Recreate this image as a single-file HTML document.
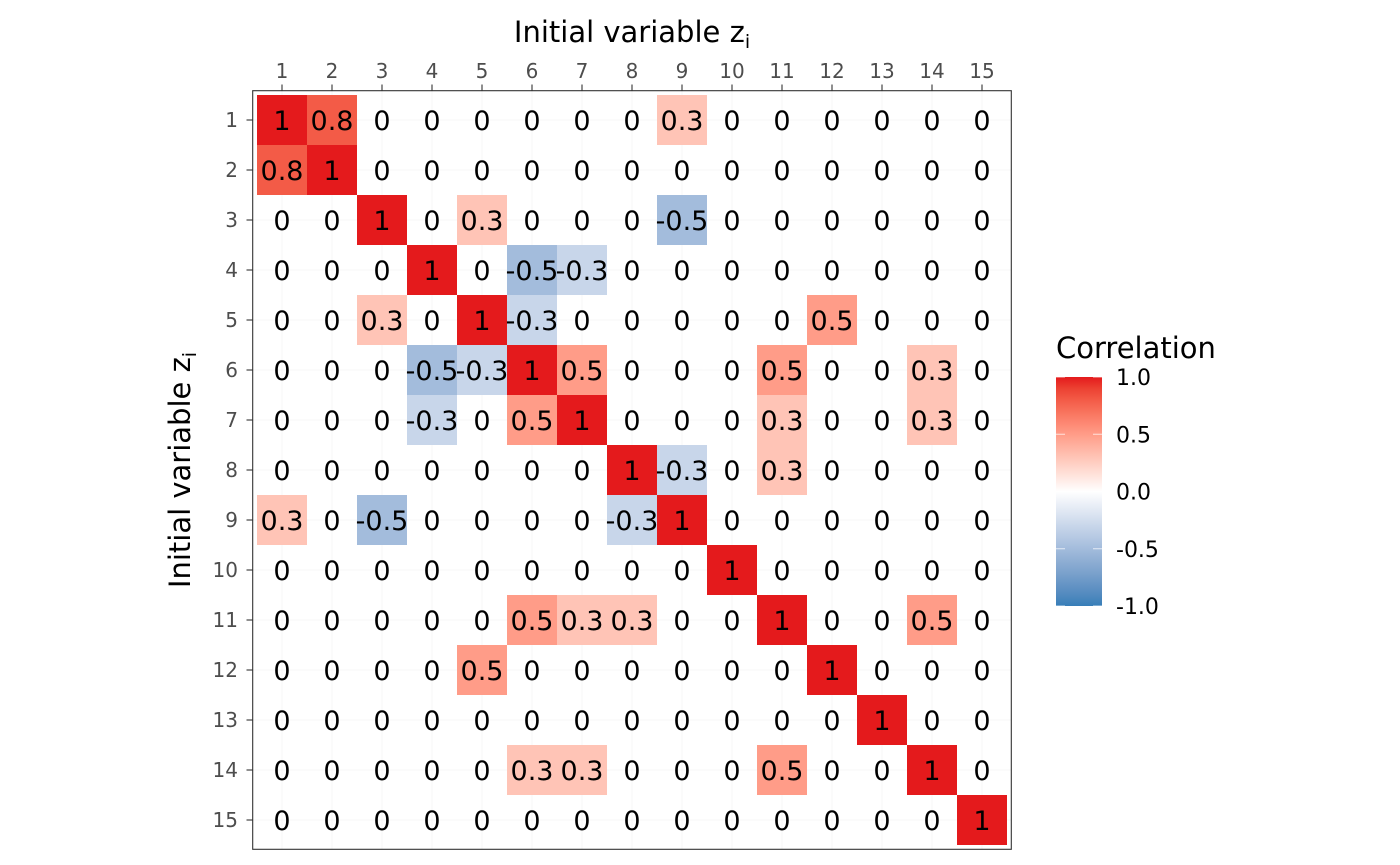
<!DOCTYPE html>
<html><head><meta charset="utf-8"><style>
html,body{margin:0;padding:0;background:#fff;}
svg{display:block;font-family:"DejaVu Sans","Liberation Sans",sans-serif;}
</style></head><body>
<svg id="chart" width="1400" height="865" viewBox="0 0 1400 865">
<defs>
<linearGradient id="cbar" x1="0" y1="1" x2="0" y2="0"></linearGradient>
</defs>
<g id="grid"></g>
<g id="tiles"></g>
<g id="labels"></g>
<rect x="252.7" y="90.7" width="758.6" height="758.6" fill="none" stroke="#333" stroke-width="1.1"/>
<g id="axes"></g>
<text x="632" y="42" font-size="29" text-anchor="middle" fill="#000">Initial variable z<tspan font-size="19" dy="6">i</tspan></text>
<text transform="translate(190,470) rotate(-90)" font-size="29" text-anchor="middle" fill="#000">Initial variable z<tspan font-size="19" dy="6">i</tspan></text>
<g id="legend">
<text x="1056" y="358" font-size="29" fill="#000">Correlation</text>
<rect x="1056" y="377" width="46" height="229" fill="url(#cbar)"/>
</g>
</svg>
<script>
const categories = ["1","2","3","4","5","6","7","8","9","10","11","12","13","14","15"];
const row1 = [1,0.8,0,0,0,0,0,0,0.3,0,0,0,0,0,0];
const row2 = [0.8,1,0,0,0,0,0,0,0,0,0,0,0,0,0];
const row3 = [0,0,1,0,0.3,0,0,0,-0.5,0,0,0,0,0,0];
const row4 = [0,0,0,1,0,-0.5,-0.3,0,0,0,0,0,0,0,0];
const row5 = [0,0,0.3,0,1,-0.3,0,0,0,0,0,0.5,0,0,0];
const row6 = [0,0,0,-0.5,-0.3,1,0.5,0,0,0,0.5,0,0,0.3,0];
const row7 = [0,0,0,-0.3,0,0.5,1,0,0,0,0.3,0,0,0.3,0];
const row8 = [0,0,0,0,0,0,0,1,-0.3,0,0.3,0,0,0,0];
const row9 = [0.3,0,-0.5,0,0,0,0,-0.3,1,0,0,0,0,0,0];
const row10 = [0,0,0,0,0,0,0,0,0,1,0,0,0,0,0];
const row11 = [0,0,0,0,0,0.5,0.3,0.3,0,0,1,0,0,0.5,0];
const row12 = [0,0,0,0,0.5,0,0,0,0,0,0,1,0,0,0];
const row13 = [0,0,0,0,0,0,0,0,0,0,0,0,1,0,0];
const row14 = [0,0,0,0,0,0.3,0.3,0,0,0,0.5,0,0,1,0];
const row15 = [0,0,0,0,0,0,0,0,0,0,0,0,0,0,1];
const rows = [row1,row2,row3,row4,row5,row6,row7,row8,row9,row10,row11,row12,row13,row14,row15];
const legendTicks = [1.0,0.5,0.0,-0.5,-1.0];

const NS="http://www.w3.org/2000/svg";
function mk(tag,attrs,parent){const e=document.createElementNS(NS,tag);for(const k in attrs)e.setAttribute(k,attrs[k]);parent.appendChild(e);return e;}
const x0=257, cw=50, y0=95;
function xc(i){return x0+cw*i+cw/2;}
function yc(j){return y0+cw*j+cw/2;}
function cbY(v){return 377+(1-v)/2*229;}

function s2l(c){c/=255;return c<=0.04045?c/12.92:Math.pow((c+0.055)/1.055,2.4);}
function l2s(c){c=c<=0.0031308?12.92*c:1.055*Math.pow(c,1/2.4)-0.055;return Math.max(0,Math.min(255,Math.round(c*255)));}
function toLab(h){const r=s2l(parseInt(h.substr(1,2),16)),g=s2l(parseInt(h.substr(3,2),16)),b=s2l(parseInt(h.substr(5,2),16));
let X=(0.4124*r+0.3576*g+0.1805*b)/0.95047,Y=0.2126*r+0.7152*g+0.0722*b,Z=(0.0193*r+0.1192*g+0.9505*b)/1.08883;
const f=t=>t>0.008856?Math.cbrt(t):7.787*t+16/116;const fx=f(X),fy=f(Y),fz=f(Z);return[116*fy-16,500*(fx-fy),200*(fy-fz)];}
function fromLab(L){const fy=(L[0]+16)/116,fx=fy+L[1]/500,fz=fy-L[2]/200;const fi=t=>t*t*t>0.008856?t*t*t:(t-16/116)/7.787;
const X=fi(fx)*0.95047,Y=fi(fy),Z=fi(fz)*1.08883;
const r=3.2406*X-1.5372*Y-0.4986*Z,g=-0.9689*X+1.8758*Y+0.0415*Z,b=0.0557*X-0.2040*Y+1.0570*Z;
return "rgb("+l2s(r)+","+l2s(g)+","+l2s(b)+")";}
const LOW=toLab("#377eb8"),MID=toLab("#ffffff"),HIGH=toLab("#e41a1c");
function color(v){const a=MID,b=v>=0?HIGH:LOW,t=Math.abs(v);return fromLab([a[0]+(b[0]-a[0])*t,a[1]+(b[1]-a[1])*t,a[2]+(b[2]-a[2])*t]);}

const grid=document.getElementById('grid'),tiles=document.getElementById('tiles'),labels=document.getElementById('labels'),axes=document.getElementById('axes');
categories.forEach((c,i)=>{
  let g1=mk('line',{x1:xc(i),x2:xc(i),y1:90.7,y2:849.3,stroke:'#f5f5f5','stroke-width':0.8},grid);
  
  
  let g2=mk('line',{y1:yc(i),y2:yc(i),x1:252.7,x2:1011.3,stroke:'#f5f5f5','stroke-width':0.8},grid);
  
  
});
rows.forEach((r,j)=>{
  r.forEach((v,i)=>{
    if(v!==0){
      const t=mk('rect',{x:x0+cw*i,y:y0+cw*j,width:cw,height:cw,fill:color(v)},tiles);
      
      
    }
    const tx=mk('text',{x:xc(i),y:yc(j)+10,'font-size':27,'text-anchor':'middle',fill:'#000'},labels);
    tx.textContent=String(v);
    
    
  });
});
categories.forEach((c,i)=>{
  const tk=mk('line',{x1:xc(i),x2:xc(i),y1:84.5,y2:90.7,stroke:'#333','stroke-width':1.1},axes);
  
  
  const tl=mk('text',{x:xc(i),y:78,'font-size':20,'text-anchor':'middle',fill:'#4d4d4d'},axes);
  tl.textContent=c;
  
  
  const tk2=mk('line',{x1:246.5,x2:252.7,y1:yc(i),y2:yc(i),stroke:'#333','stroke-width':1.1},axes);
  
  
  const tl2=mk('text',{x:238,y:yc(i)+7,'font-size':20,'text-anchor':'end',fill:'#4d4d4d'},axes);
  tl2.textContent=c;
  
  
});
const grad=document.getElementById('cbar');
for(let k=0;k<=20;k++){const v=-1+k/10;mk('stop',{offset:(k/20),'stop-color':color(v)},grad);}
const leg=document.getElementById('legend');
legendTicks.forEach(v=>{
  const y=cbY(v);
  const a=mk('line',{x1:1056,x2:1065,y1:y,y2:y,stroke:'#fff','stroke-width':1,'stroke-opacity':0.7},leg);
  
  
  const b=mk('line',{x1:1093,x2:1102,y1:y,y2:y,stroke:'#fff','stroke-width':1,'stroke-opacity':0.7},leg);
  
  
  const t=mk('text',{x:1116,y:y+8,'font-size':22,fill:'#000'},leg);
  t.textContent=v.toFixed(1);
  
  
});
</script>
</body></html>
